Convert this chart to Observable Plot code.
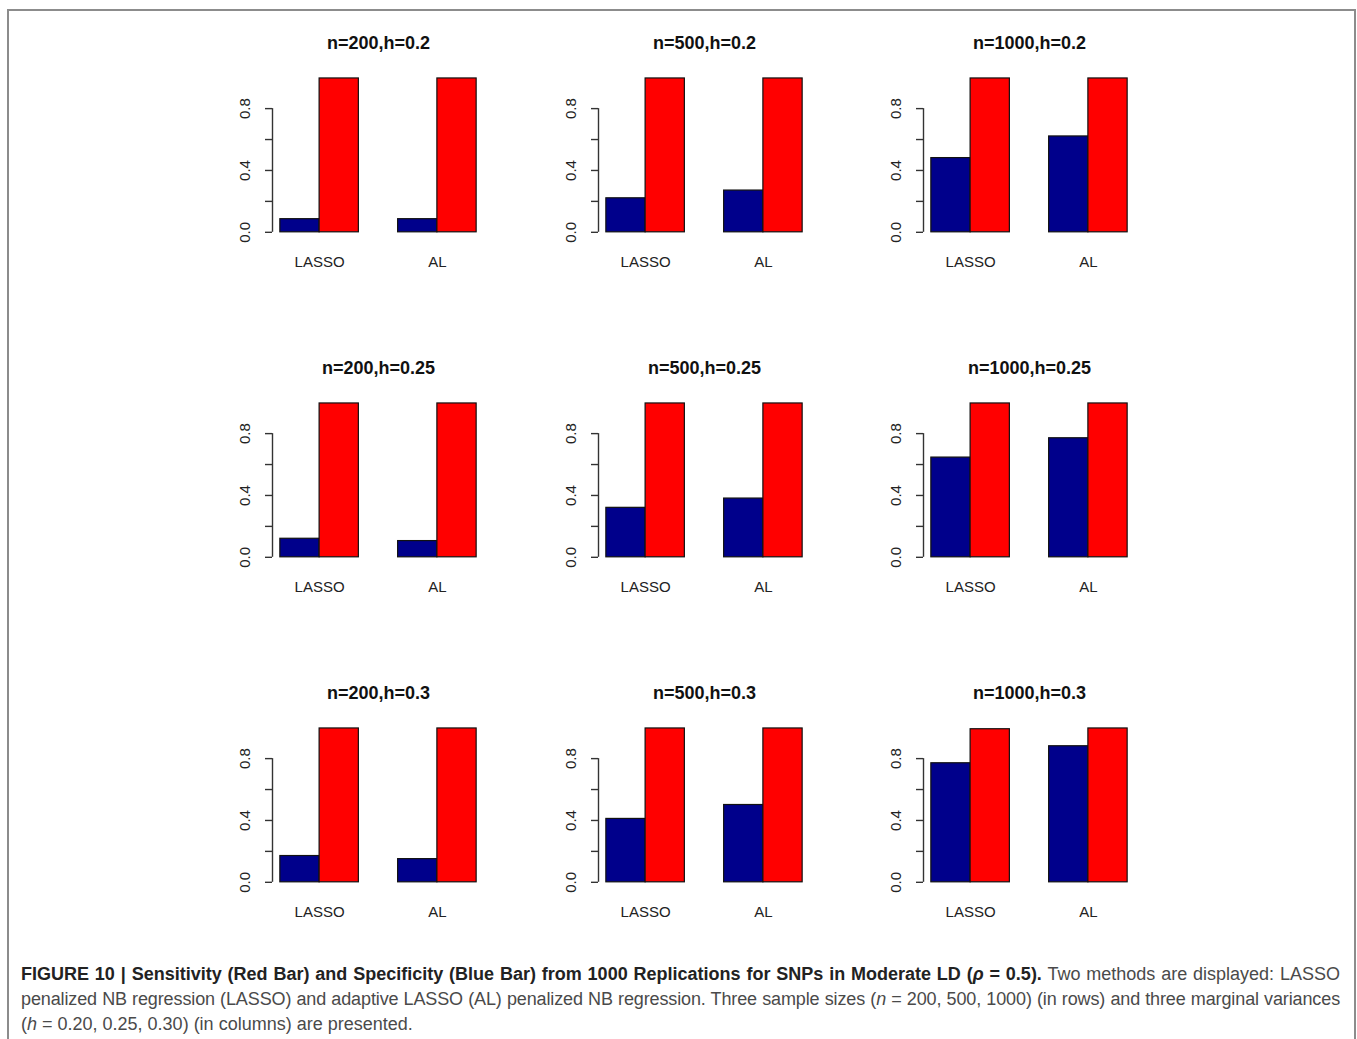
<!DOCTYPE html>
<html>
<head>
<meta charset="utf-8">
<script src="https://cdn.jsdelivr.net/npm/d3@7"></script>
<script src="https://cdn.jsdelivr.net/npm/@observablehq/plot@0.6"></script>
<style>
  body { margin: 0; background: #fff; font-family: "Liberation Sans", Arial, Helvetica, sans-serif; }
  #fig { position: relative; width: 1357px; height: 1039px; overflow: hidden; background: #fff; }
  #frame { position: absolute; left: 7px; top: 9px; width: 1349px; height: 1100px; border: 2px solid #8c8c8c; box-sizing: border-box; }
  .panel { position: absolute; }
  .panel svg { overflow: visible; }
  #caption { position: absolute; left: 21px; width: 1319px; top: 962px; font-size: 18px; line-height: 25px; color: #4a4a4a; }
  #caption .line { white-space: nowrap; height: 25px; }
  #caption b { color: #222; }
</style>
</head>
<body>
<div id="fig">
  <div id="frame"></div>
  <div id="panels"></div>
  <div id="caption">
    <div class="line"><span class="j"><b>FIGURE 10 | Sensitivity (Red Bar) and Specificity (Blue Bar) from 1000 Replications for SNPs in Moderate LD (<i>ρ</i> = 0.5).</b> Two methods are displayed: LASSO</span></div>
    <div class="line"><span class="j">penalized NB regression (LASSO) and adaptive LASSO (AL) penalized NB regression. Three sample sizes (<i>n</i> = 200, 500, 1000) (in rows) and three marginal variances</span></div>
    <div class="line"><span>(<i>h</i> = 0.20, 0.25, 0.30) (in columns) are presented.</span></div>
  </div>
</div>
<script>
// ---- data ----
const nValues = [200, 500, 1000];          // columns
const hValues = ["0.2", "0.25", "0.3"];    // rows
const methods = ["LASSO", "AL"];
const measures = ["Specificity", "Sensitivity"];
const barColors = ["#00008b", "#ff0000"];
// specificity (blue bars): rows = h, cols = n
const specificityLASSO = [[0.085, 0.22, 0.48], [0.12, 0.32, 0.645], [0.17, 0.41, 0.77]];
const specificityAL    = [[0.085, 0.27, 0.62], [0.105, 0.38, 0.77], [0.15, 0.50, 0.88]];
// sensitivity (red bars)
const sensitivityLASSO = [[0.995, 0.995, 0.995], [0.995, 0.995, 0.995], [0.995, 0.995, 0.99]];
const sensitivityAL    = [[0.995, 0.995, 0.995], [0.995, 0.995, 0.995], [0.995, 0.995, 0.995]];
const yTicks = [0, 0.2, 0.4, 0.6, 0.8];
const yTickLabels = [0, 0.4, 0.8];

// ---- layout ----
const xDomain = [0.8, 6.2];   // R barplot layout, beside=TRUE, space=c(0,1)
const yDomain = [-0.04, 1.04];
const fontFamily = '"Liberation Sans", Arial, Helvetica, sans-serif';
const container = document.getElementById("panels");

hValues.forEach((h, r) => {
  nValues.forEach((n, c) => {
    const values = {
      LASSO: [specificityLASSO[r][c], sensitivityLASSO[r][c]],
      AL: [specificityAL[r][c], sensitivityAL[r][c]]
    };
    const rows = [];
    methods.forEach((m, gi) => {
      measures.forEach((meas, si) => {
        const pos = gi * 3 + si + 1;
        rows.push({method: m, measure: meas, value: values[m][si], x1: pos, x2: pos + 1});
      });
    });
    const groupCenters = methods.map((m, gi) => ({method: m, x: gi * 3 + 2}));
    const title = `n=${n},h=${h}`;
    const chart = Plot.plot({
      width: 326,
      height: 270,
      marginLeft: 60,
      marginRight: 54,
      marginTop: 51,
      marginBottom: 52,
      x: {domain: xDomain, axis: null},
      y: {domain: yDomain, axis: null},
      color: {domain: measures, range: barColors},
      style: {fontFamily, background: "transparent", color: "#222"},
      marks: [
        Plot.rectY(rows, {x1: "x1", x2: "x2", y1: 0, y2: "value", fill: "measure", stroke: "#111", strokeWidth: 1.2}),
        Plot.axisY({ticks: yTicks, tickSize: 7, tickFormat: () => "", label: null, stroke: "#333", strokeWidth: 1.4}),
        Plot.ruleX([xDomain[0]], {y1: 0, y2: d3.max(yTicks), stroke: "#333", strokeWidth: 1.4}),
        Plot.text(yTickLabels, {x: xDomain[0], y: d => d, text: d => d.toFixed(1), rotate: -90, dx: -27, fontSize: 15, fill: "#222"}),
        Plot.text(groupCenters, {x: "x", text: "method", frameAnchor: "bottom", dy: 28, fontSize: 15, fill: "#222"}),
        Plot.text([title], {text: d => d, frameAnchor: "top", dy: -35, fontSize: 18, fontWeight: "bold", fill: "#111"})
      ]
    });
    const div = document.createElement("div");
    div.className = "panel";
    div.style.left = Math.round(212 + c * 325.5) + "px";
    div.style.top = (20 + r * 325) + "px";
    div.appendChild(chart);
    container.appendChild(div);
  });
});

// ---- justify caption lines to the full width ----
const target = 1319;
document.querySelectorAll("#caption span.j").forEach(span => {
  const text = span.textContent;
  const chars = text.length;
  const spaces = (text.match(/ /g) || []).length;
  let w = span.getBoundingClientRect().width;
  if (w > target) {
    span.style.letterSpacing = ((target - w) / chars - 0.05) + "px";
    w = span.getBoundingClientRect().width;
  }
  if (w < target && spaces > 0) {
    span.style.wordSpacing = ((target - w) / spaces) + "px";
  }
});
</script>
</body>
</html>
